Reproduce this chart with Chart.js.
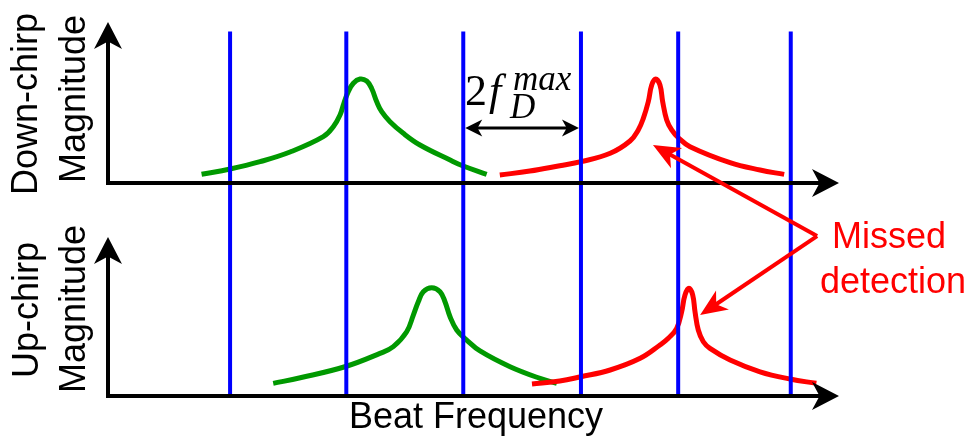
<!DOCTYPE html>
<html>
<head>
<meta charset="utf-8">
<script src="https://cdn.jsdelivr.net/npm/chart.js@4.4.1/dist/chart.umd.min.js"></script>
<style>
  html, body { margin: 0; padding: 0; background: #fff; }
  #wrap { width: 972px; height: 437px; }
</style>
</head>
<body>
<div id="wrap"><canvas id="chart" width="972" height="437"></canvas></div>
<script>
// Beat frequency axis in arbitrary units (0 .. 100), magnitude ~ 0 .. 1
const binEdges = [16.7, 32.6, 48.6, 64.7, 78.0, 93.4];
const binTop = 3.47; // height of the bin edges, in up-chirp magnitude units

// Down-chirp spectrum (top panel)
const downGreenF = [12.8, 16.7, 20.8, 24.9, 29.45, 30.82, 31.74, 32.28, 32.87, 33.56, 34.47, 35.39, 36.07, 36.76, 37.44, 38.58, 40.4, 42.68, 46.8, 48.6, 51.8];
const downGreenM = [0.083, 0.133, 0.203, 0.295, 0.441, 0.536, 0.648, 0.762, 0.87, 0.95, 0.99, 0.971, 0.9, 0.774, 0.679, 0.584, 0.473, 0.362, 0.219, 0.162, 0.083];
const downRedF = [53.6, 57.7, 61.8, 64.7, 68.7, 71.41, 72.54, 73.23, 73.91, 74.38, 74.92, 75.51, 75.88, 76.43, 77.11, 78.02, 79.62, 85.1, 89.2, 92.5];
const downRedM = [0.076, 0.114, 0.165, 0.203, 0.283, 0.4, 0.505, 0.616, 0.774, 0.933, 0.99, 0.933, 0.774, 0.6, 0.505, 0.431, 0.346, 0.194, 0.124, 0.082];

// Up-chirp spectrum (bottom panel)
const upGreenF = [22.6, 26.3, 32.4, 37.2, 39.03, 40.86, 41.77, 42.45, 43.13, 44.28, 45.42, 46.1, 46.79, 47.7, 49.07, 50.89, 55.0, 59.1, 61.4];
const upGreenM = [0.121, 0.174, 0.279, 0.406, 0.47, 0.612, 0.771, 0.898, 0.993, 1.031, 0.993, 0.898, 0.755, 0.629, 0.533, 0.429, 0.279, 0.168, 0.121];
const upRedF = [58.0, 61.8, 64.7, 68.7, 72.8, 75.51, 76.65, 77.8, 78.48, 78.93, 79.48, 79.99, 80.3, 80.75, 81.44, 82.35, 85.1, 89.2, 93.3, 96.9];
const upRedM = [0.114, 0.143, 0.184, 0.248, 0.359, 0.486, 0.55, 0.645, 0.803, 0.962, 1.026, 0.962, 0.803, 0.629, 0.517, 0.454, 0.343, 0.231, 0.162, 0.121];

const GREEN = '#009900';
const RED = '#ff0000';
const BLUE = '#0000ff';

function pts(f, m) { return f.map((x, i) => ({ x, y: m[i] })); }

function curve(f, m, color, axis, order) {
  return {
    data: pts(f, m), yAxisID: axis, borderColor: color, borderWidth: 5,
    showLine: true, pointRadius: 0, tension: 0.4, order
  };
}

const datasets = [
  curve(downGreenF, downGreenM, GREEN, 'yTop', 3),
  curve(downRedF, downRedM, RED, 'yTop', 2),
  curve(upGreenF, upGreenM, GREEN, 'yBot', 3),
  curve(upRedF, upRedM, RED, 'yBot', 2),
  ...binEdges.map(f => ({
    data: [{ x: f, y: 0 }, { x: f, y: binTop }], yAxisID: 'yBot',
    borderColor: BLUE, borderWidth: 4, showLine: true, pointRadius: 0, order: 1
  }))
];

function arrowHead(ctx, x, y, angle, len, width) {
  ctx.save();
  ctx.translate(x, y);
  ctx.rotate(angle);
  ctx.beginPath();
  ctx.moveTo(0, 0);
  ctx.lineTo(-len, -width / 2);
  ctx.lineTo(-len * 0.72, 0);
  ctx.lineTo(-len, width / 2);
  ctx.closePath();
  ctx.fill();
  ctx.restore();
}

function arrow(ctx, x1, y1, x2, y2, len, width) {
  const a = Math.atan2(y2 - y1, x2 - x1);
  ctx.beginPath();
  ctx.moveTo(x1, y1);
  ctx.lineTo(x2 - Math.cos(a) * len * 0.7, y2 - Math.sin(a) * len * 0.7);
  ctx.stroke();
  arrowHead(ctx, x2, y2, a, len, width);
}

const annotations = {
  id: 'annotations',
  afterDatasetsDraw(chart) {
    const ctx = chart.ctx;
    const x = chart.scales.x, yT = chart.scales.yTop, yB = chart.scales.yBot;
    ctx.save();

    // axes with arrow tips
    [[yT, 1.533], [yB, 1.514]].forEach(([ys, tip]) => {
      const x0 = x.getPixelForValue(0), y0 = ys.getPixelForValue(0);
      const xe = x.getPixelForValue(100), ye = ys.getPixelForValue(tip);
      ctx.strokeStyle = '#000'; ctx.fillStyle = '#000';
      ctx.lineWidth = 4; ctx.lineJoin = 'miter';
      ctx.beginPath();
      ctx.moveTo(x0, ye + 18);
      ctx.lineTo(x0, y0);
      ctx.lineTo(xe - 18, y0);
      ctx.stroke();
      arrowHead(ctx, x0, ye, -Math.PI / 2, 27, 28);
      arrowHead(ctx, xe, y0, 0, 27, 28);
    });

    // 2 f_D^max span between two bin edges
    const xa = x.getPixelForValue(binEdges[2]) + 2, xb = x.getPixelForValue(binEdges[3]) - 2;
    const yd = yT.getPixelForValue(0.524);
    ctx.lineWidth = 3;
    ctx.beginPath();
    ctx.moveTo(xa + 10, yd); ctx.lineTo(xb - 10, yd); ctx.stroke();
    arrowHead(ctx, xa, yd, Math.PI, 17, 17);
    arrowHead(ctx, xb, yd, 0, 17, 17);

    ctx.textAlign = 'left';
    ctx.textBaseline = 'alphabetic';
    ctx.font = '44px "Liberation Serif"';
    ctx.fillText('2', 465, 105);
    ctx.font = 'italic 44px "Liberation Serif"';
    ctx.fillText('f', 489, 105);
    ctx.font = 'italic 35px "Liberation Serif"';
    ctx.fillText('max', 513, 90);
    ctx.fillText('D', 510, 118);

    // missed detection pointers
    const vx = x.getPixelForValue(97.0), vy = yT.getPixelForValue(-0.505);
    ctx.strokeStyle = RED; ctx.fillStyle = RED; ctx.lineWidth = 4;
    arrow(ctx, vx, vy, x.getPixelForValue(74.55), yT.getPixelForValue(0.362), 27, 23);
    arrow(ctx, vx, vy, x.getPixelForValue(81.0), yB.getPixelForValue(0.771), 27, 23);

    ctx.font = '36px "Liberation Sans", Arial, sans-serif';
    ctx.textAlign = 'center';
    ctx.fillText('Missed', 889, 248);
    ctx.fillText('detection', 893, 293);

    // axis titles
    ctx.fillStyle = '#000';
    ctx.fillText('Beat Frequency', 476, 428);
    [['Down-chirp', 37, 104], ['Magnitude', 85, 99], ['Up-chirp', 38, 310], ['Magnitude', 85, 309]]
      .forEach(([t, bx, cy]) => {
        ctx.save();
        ctx.translate(bx, cy);
        ctx.rotate(-Math.PI / 2);
        ctx.fillText(t, 0, 0);
        ctx.restore();
      });

    ctx.restore();
  }
};

new Chart(document.getElementById('chart'), {
  type: 'scatter',
  data: { datasets },
  options: {
    responsive: false,
    animation: false,
    devicePixelRatio: 1,
    layout: { padding: { left: 108, right: 133, top: 0, bottom: 0 } },
    plugins: { legend: { display: false }, tooltip: { enabled: false } },
    scales: {
      x: { type: 'linear', min: 0, max: 100, display: false },
      yTop: { type: 'linear', min: -2.419, max: 1.743, display: false },
      yBot: { type: 'linear', min: -0.390, max: 3.771, display: false }
    }
  },
  plugins: [annotations]
});
</script>
</body>
</html>
